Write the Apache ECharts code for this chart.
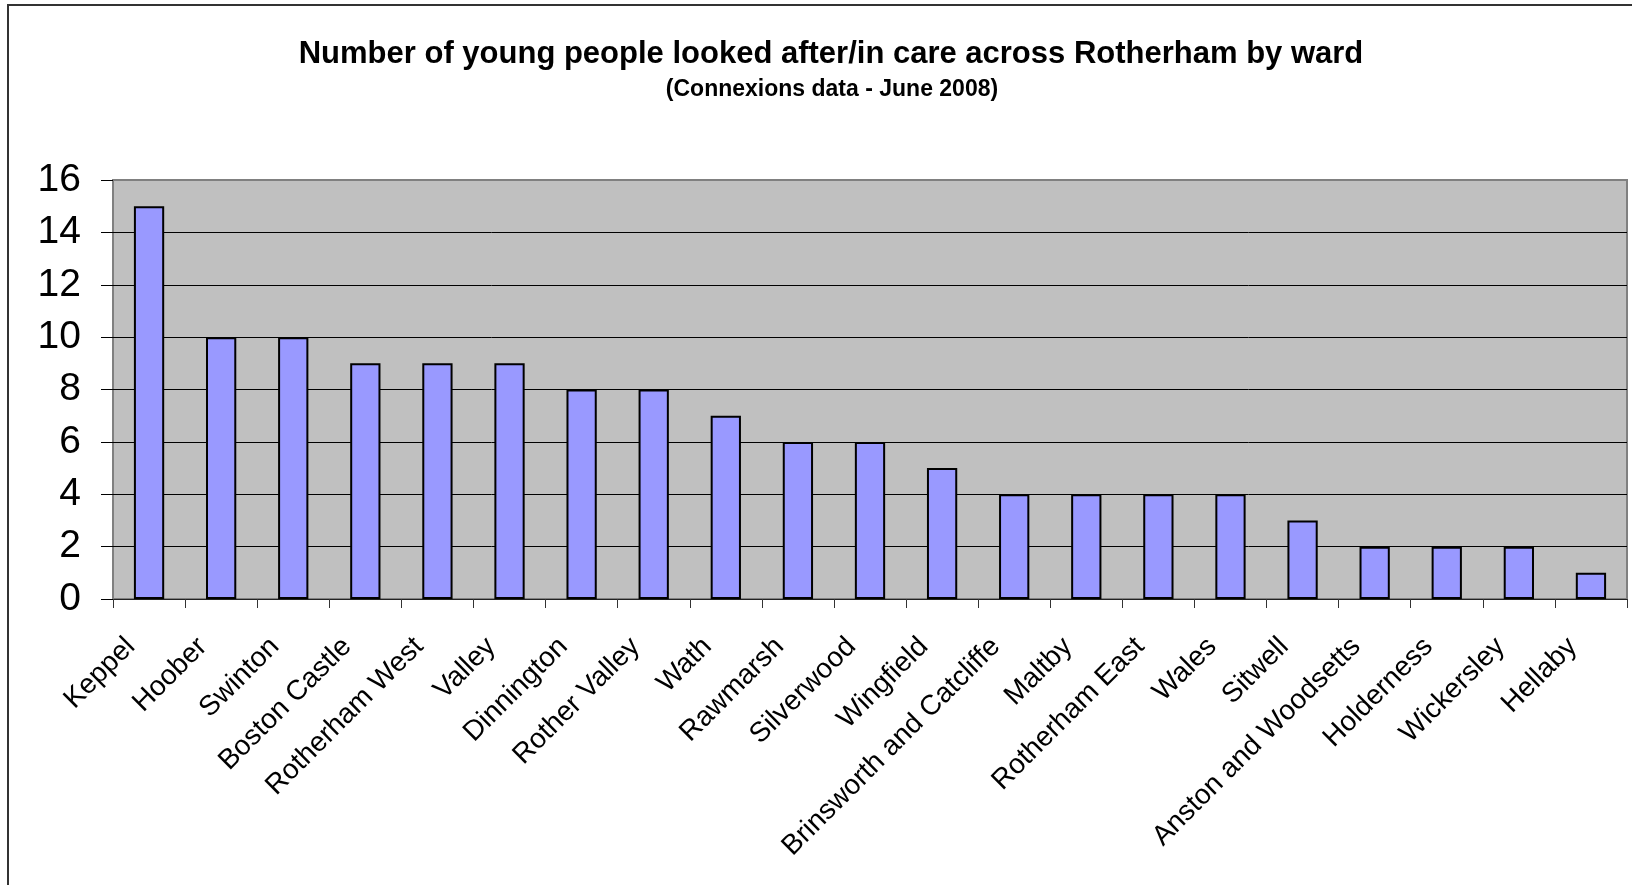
<!DOCTYPE html>
<html>
<head>
<meta charset="utf-8">
<script src="https://cdn.jsdelivr.net/npm/echarts@6/dist/echarts.min.js"></script>
<style>
html,body{margin:0;padding:0;background:#fff;}
#chart{width:1632px;height:885px;}
</style>
</head>
<body>
<div id="chart"></div>
<script>
const titleText = 'Number of young people looked after/in care across Rotherham by ward';
const subtitleText = '(Connexions data - June 2008)';
const wards = ['Keppel','Hoober','Swinton','Boston Castle','Rotherham West','Valley','Dinnington','Rother Valley','Wath','Rawmarsh','Silverwood','Wingfield','Brinsworth and Catcliffe','Maltby','Rotherham East','Wales','Sitwell','Anston and Woodsetts','Holderness','Wickersley','Hellaby'];
const counts = [15,10,10,9,9,9,8,8,7,6,6,5,4,4,4,4,3,2,2,2,1];
const yTicks = {min:0, max:16, interval:2};

const font = '"Liberation Sans", Arial, sans-serif';
const chart = echarts.init(document.getElementById('chart'), null, {renderer:'canvas'});
chart.setOption({
  animation:false,
  backgroundColor:'#fff',
  title:[
    {text:titleText, left:826, top:34, textAlign:'center',
     textStyle:{fontFamily:font, fontSize:31, fontWeight:'bold', color:'#000', lineHeight:31}},
    {text:subtitleText, left:827, top:73, textAlign:'center',
     textStyle:{fontFamily:font, fontSize:23, fontWeight:'bold', color:'#000', lineHeight:23}}
  ],
  graphic:[{type:'rect', shape:{x:8, y:5, width:1700, height:1000},
    style:{fill:'none', stroke:'#333', lineWidth:2}, silent:true, z:-1}],
  grid:{left:113, right:5, top:180, bottom:286, containLabel:false, outerBoundsMode:'none',
    show:true, backgroundColor:'#C0C0C0', borderColor:'#808080', borderWidth:2},
  xAxis:{
    type:'category', data:wards, boundaryGap:true,
    axisLine:{show:true, lineStyle:{color:'#222', width:1}},
    axisTick:{show:true, alignWithLabel:false, length:9, lineStyle:{color:'#333', width:1}},
    axisLabel:{interval:0, rotate:45, margin:25, padding:[0,26,0,0],
      fontFamily:font, fontSize:28, color:'#000'}
  },
  yAxis:{
    type:'value', min:yTicks.min, max:yTicks.max, interval:yTicks.interval,
    axisLine:{show:false},
    axisTick:{show:true, length:12, lineStyle:{color:'#000', width:1}},
    axisLabel:{margin:32, fontFamily:font, fontSize:39, color:'#000'},
    splitLine:{show:true, lineStyle:{width:1,
      color:['#000','#000','#000','#000','#000','#000','#000','#000','rgba(0,0,0,0)']}}
  },
  series:[{
    type:'bar', data:counts, barCategoryGap:'58%',
    itemStyle:{color:'#9999FF', borderColor:'#000', borderWidth:2}
  }]
});
</script>
</body>
</html>
